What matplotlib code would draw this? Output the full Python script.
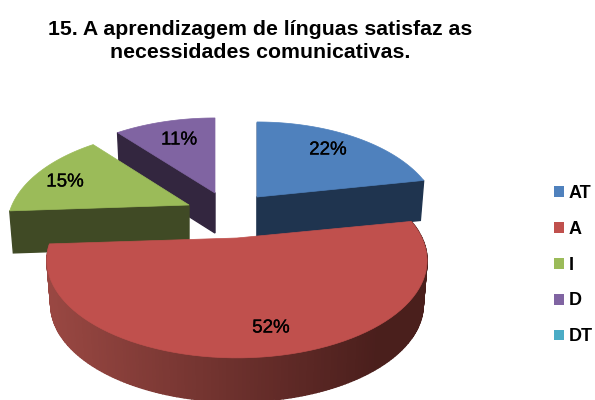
import numpy as np
import matplotlib
matplotlib.use('Agg')
import matplotlib.pyplot as plt
import matplotlib.patheffects as pe
from matplotlib.patches import Polygon, Patch

categories = ['AT', 'A', 'I', 'D', 'DT']
values = [22, 52, 15, 11, 0]
title = '15. A aprendizagem de línguas satisfaz as\nnecessidades comunicativas.'

colors = ['#4f81bd', '#c0504d', '#9bbb59', '#8064a2', '#4bacc6']
wall_colors = ['#1f344f', '#4c1f1d', '#404a25', '#33263f', '#1e4450']

# exploded apex of each slice, in pixels
apex = {0: (257, 197), 1: (237, 238), 2: (189, 205), 3: (215, 193)}
rx = {0: 177.0, 1: 185.0, 2: 177.0, 3: 180.0}
depth = {0: 40.0, 1: 44.0, 2: 42.0, 3: 40.0}
label_pos = {0: (328, 150), 1: (271, 328), 2: (65, 182), 3: (179, 140)}

RY, PERSP = 92.3, 0.23
SHRINK_X, SHRINK_Y = 0.98, 1.0


def top_point(i, theta):
    # perspective view of a point on the rim of the disc
    u, v = np.cos(theta), np.sin(theta)
    w = 1 + PERSP * v
    return apex[i][0] + rx[i] * u / w, apex[i][1] - RY * v / w


def bottom_point(i, x, y):
    ax0, ay0 = apex[i]
    return ax0 + (x - ax0) * SHRINK_X, ay0 + depth[i] + (y - ay0) * SHRINK_Y


def rim(i, a0, a1, n=80):
    th = np.radians(np.linspace(a0, a1, n))
    return [top_point(i, t) for t in th]


def wall(ax, i, p, q, color, z):
    poly = [p, q, bottom_point(i, *q), bottom_point(i, *p)]
    ax.add_patch(Polygon(poly, closed=True, fc=color, ec=color, lw=1, zorder=z))


fig = plt.figure(figsize=(5.95, 4), dpi=100)
ax = fig.add_axes([0, 0, 1, 1])
ax.set_xlim(0, 595)
ax.set_ylim(400, 0)
ax.axis('off')

# slice angles, clockwise from 12 o'clock
angles = {}
start = 90.0
for i, v in enumerate(values):
    angles[i] = (start, start - v * 3.6)
    start -= v * 3.6

order = [3, 0, 2, 1]
for z, i in enumerate(order):
    a0, a1 = angles[i]
    base = z * 10 + 1
    edge = rim(i, a0, a1)

    # radial walls that face the viewer
    if i == 0:
        wall(ax, i, apex[i], edge[0], wall_colors[i], base)
        wall(ax, i, apex[i], edge[-1], wall_colors[i], base)
    if i == 2 or i == 3:
        wall(ax, i, apex[i], edge[0], wall_colors[i], base)

    # curved side of the big slice, lighter towards the left
    if i == 1:
        pts = rim(i, a0, a1, 200)
        left = np.array([0.60, 0.28, 0.26])
        right = np.array([0.29, 0.12, 0.11])
        for p, q in zip(pts[:-1], pts[1:]):
            t = np.clip((p[0] - 50) / 330, 0, 1)
            wall(ax, i, p, q, left * (1 - t) + right * t, base)

    ax.add_patch(Polygon([apex[i]] + edge, closed=True, fc=colors[i], ec=colors[i],
                         lw=0.5, zorder=base + 2))
    ax.text(label_pos[i][0], label_pos[i][1], f'{values[i]}%', ha='center', va='center',
            fontsize=13.5, family='Liberation Sans', color='black', zorder=60,
            path_effects=[pe.withStroke(linewidth=0.2, foreground='black')])

ax.text(260, 41, title, ha='center', va='center', fontsize=15.3, fontweight='bold',
        family='Liberation Sans', linespacing=1.32, color='black')

handles = [Patch(fc=c, ec='none') for c in colors]
leg = ax.legend(handles, categories, loc='center left', bbox_to_anchor=(554 / 595, 1 - 265 / 400),
                frameon=False, handlelength=0.55, handleheight=0.55, handletextpad=0.25,
                labelspacing=1.05, borderpad=0, borderaxespad=0,
                prop={'family': 'Liberation Sans', 'weight': 'bold', 'size': 13})

plt.savefig('out.png', dpi=100)
